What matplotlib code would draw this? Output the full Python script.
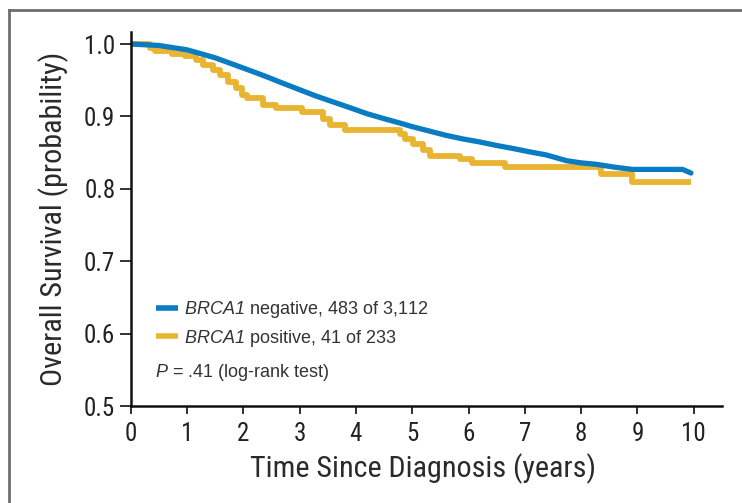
import matplotlib
matplotlib.use("Agg")
from matplotlib import pyplot as plt
from matplotlib.lines import Line2D

# Kaplan-Meier estimates, read as (years, survival probability)
neg_years = [0, 0.5, 1.0, 1.23, 1.5, 1.82, 2.1, 2.41, 2.7, 3.0, 3.3, 3.6, 3.9,
             4.19, 4.5, 4.78, 5.0, 5.3, 5.6, 5.9, 6.19, 6.5, 6.78, 7.1, 7.38,
             7.74, 8.0, 8.27, 8.6, 8.91, 9.5, 9.8, 9.95]
neg_surv = [1.0, 0.998, 0.992, 0.987, 0.981, 0.972, 0.964, 0.955, 0.946, 0.937,
            0.928, 0.920, 0.912, 0.904, 0.897, 0.891, 0.886, 0.880, 0.874,
            0.869, 0.865, 0.860, 0.856, 0.851, 0.847, 0.839, 0.836, 0.834,
            0.830, 0.827, 0.827, 0.827, 0.822]

pos_years = [0, 0.35, 0.43, 0.73, 0.96, 1.17, 1.29, 1.47, 1.59, 1.73, 1.88,
             1.97, 2.06, 2.35, 2.59, 3.04, 3.41, 3.54, 3.80, 4.78, 4.88, 5.02,
             5.19, 5.31, 5.84, 6.07, 6.64, 8.35, 8.91, 9.95]
pos_surv = [1.0, 0.995, 0.991, 0.986, 0.983, 0.978, 0.971, 0.964, 0.957, 0.948,
            0.939, 0.930, 0.925, 0.916, 0.912, 0.906, 0.897, 0.888, 0.882,
            0.876, 0.869, 0.862, 0.854, 0.846, 0.841, 0.836, 0.830, 0.820,
            0.810, 0.810]

neg_label = r"$BRCA1$ negative, 483 of 3,112"
pos_label = r"$BRCA1$ positive, 41 of 233"
p_text = r"$P$ = .41 (log-rank test)"

x_ticks = list(range(0, 11))
y_ticks = [0.5, 0.6, 0.7, 0.8, 0.9, 1.0]

blue = "#0a7cc1"
gold = "#e9b432"
narrow = ["Roboto Condensed", "DejaVu Sans Condensed", "Liberation Sans"]

plt.rcParams["font.family"] = ["Liberation Sans", "DejaVu Sans"]
# math text only carries the italic gene name / P, so make it all italic
plt.rcParams["mathtext.fontset"] = "custom"
plt.rcParams["mathtext.it"] = "Liberation Sans:italic"
plt.rcParams["mathtext.rm"] = "Liberation Sans:italic"

fig = plt.figure(figsize=(7.42, 5.03), dpi=100)
ax = fig.add_axes([0.176, 0.192, 0.797, 0.745])

ax.plot(pos_years, pos_surv, drawstyle="steps-post", color=gold, lw=4.2,
        solid_capstyle="butt", label=pos_label)
ax.plot(neg_years, neg_surv, color=blue, lw=3.8, solid_capstyle="round",
        label=neg_label)

ax.set_xlim(0, 10.5)
ax.set_ylim(0.5, 1.017)
ax.set_xticks(x_ticks)
ax.set_yticks(y_ticks)
ax.set_xticklabels([str(t) for t in x_ticks], family=narrow, fontsize=18,
                   color="#222222")
ax.set_yticklabels(["%.1f" % t for t in y_ticks], family=narrow, fontsize=18,
                   color="#222222")
ax.tick_params(axis="x", length=6, width=1.3, pad=5, color="#222222")
ax.tick_params(axis="y", length=8, width=1.3, pad=3, color="#222222")

for side in ["top", "right"]:
    ax.spines[side].set_visible(False)
for side in ["left", "bottom"]:
    ax.spines[side].set_linewidth(1.8)
    ax.spines[side].set_color("#111111")

ax.set_xlabel("Time Since Diagnosis (years)", family=narrow, fontsize=21.7,
              color="#2a2a2a")
ax.set_ylabel("Overall Survival (probability)", family=narrow, fontsize=21.7,
              color="#2a2a2a")
ax.xaxis.label.set_va("center")
ax.yaxis.label.set_va("center")
ax.xaxis.set_label_coords(0.495, -0.165)
ax.yaxis.set_label_coords(-0.13, 0.50)

handles, labels = ax.get_legend_handles_labels()
leg = ax.legend(handles[::-1], labels[::-1], loc="center left",
                bbox_to_anchor=(0.03, 0.22), frameon=False, fontsize=13,
                handlelength=1.25, handletextpad=0.3, labelspacing=0.4,
                borderaxespad=0)
for t in leg.get_texts():
    t.set_color("#333333")
for h in leg.get_lines():
    h.set_linewidth(4.0)
    h.set_solid_capstyle("butt")

ax.text(0.041, 0.09, p_text, transform=ax.transAxes, fontsize=13,
        color="#333333", va="center", ha="left")

# grey frame of the panel
fig.add_artist(Line2D([8.5 / 742, 8.5 / 742], [0, 1 - 10 / 503],
                      color="#6e6e6e", lw=2.0))
fig.add_artist(Line2D([8.5 / 742, 1], [1 - 10 / 503, 1 - 10 / 503],
                      color="#6e6e6e", lw=2.0))

fig.savefig("out.png", dpi=100)
